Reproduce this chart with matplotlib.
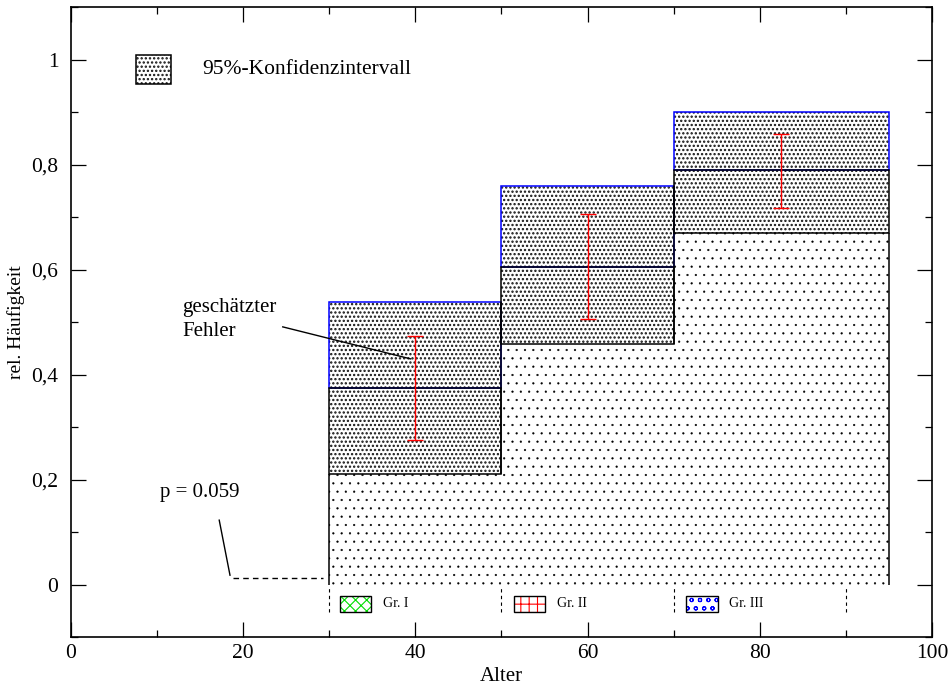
import numpy as np
import matplotlib.pyplot as plt
from matplotlib.patches import Rectangle
from matplotlib.ticker import MultipleLocator

plt.rcParams['font.family'] = ['Liberation Serif', 'DejaVu Serif']
plt.rcParams['hatch.linewidth'] = 0.8

# age classes and confidence intervals
bin_left = [30, 50, 70]
bin_right = [50, 70, 95]
ci_low = [0.21, 0.459, 0.67]
ci_mid = [0.375, 0.606, 0.789]
ci_high = [0.539, 0.76, 0.90]

# estimated error
err_x = [40, 60, 82.5]
err_low = [0.275, 0.506, 0.718]
err_high = [0.474, 0.707, 0.858]

groups = ['Gr. I', 'Gr. II', 'Gr. III']
group_colors = ['#00dd00', 'red', 'blue']
group_hatch = ['xxx', '++', 'oo']
group_box_x = [31.2, 51.4, 71.4]
group_sep = [30, 50, 70, 90]

y_ticks = [0, 0.2, 0.4, 0.6, 0.8, 1.0]
y_ticklabels = ['0', '0,2', '0,4', '0,6', '0,8', '1']


def hatched(xy, w, h, hatch, lw_hatch, color='black', **kw):
    p = Rectangle(xy, w, h, facecolor='white', edgecolor=color, lw=0, hatch=hatch, **kw)
    try:
        p.set_hatch_linewidth(lw_hatch)
    except AttributeError:
        pass
    return p


fig = plt.figure(figsize=(9.5, 6.88), dpi=100)
ax = fig.add_axes([0.0747, 0.0741, 0.9063, 0.9153])

for l, r, lo, mid, hi in zip(bin_left, bin_right, ci_low, ci_mid, ci_high):
    w = r - l
    ax.add_patch(hatched((l, 0), w, lo, '..', 0.35, zorder=1))
    ax.add_patch(hatched((l, lo), w, hi - lo, '....', 1.1, color='#111111', zorder=1))
    ax.add_patch(Rectangle((l, mid), w, hi - mid, fill=False, edgecolor='blue',
                           lw=1.1, zorder=2))
    ax.add_patch(Rectangle((l, lo), w, mid - lo, fill=False, edgecolor='black',
                           lw=1.1, zorder=2))

# inner boundaries and outer sides of the histogram
ax.vlines(bin_right[:-1], ci_low[:-1], ci_high[:-1], colors='black', lw=1.1, zorder=3)
ax.vlines([bin_left[0], bin_right[-1]], 0, [ci_low[0], ci_low[-1]],
          colors='black', lw=1.1, zorder=3)

err_x = np.array(err_x)
err_low = np.array(err_low)
err_high = np.array(err_high)
err_c = (err_low + err_high) / 2
ax.errorbar(err_x, err_c, yerr=[err_c - err_low, err_high - err_c], fmt='none',
            ecolor='red', elinewidth=1.0, capsize=5.6, capthick=1.0, zorder=4)

# annotations
ax.text(12.9, 0.505, 'geschätzter\nFehler', fontsize=15, ha='left', va='center',
        linespacing=1.3)
ax.plot([24.6, 39.45], [0.491, 0.43], color='black', lw=1.0, zorder=5)

ax.text(10.3, 0.176, 'p = 0.059', fontsize=15, ha='left', va='center')
ax.plot([17.22, 18.47], [0.1227, 0.0178], color='black', lw=1.0)
ax.plot([18.85, 29.3], [0.0134, 0.0134], color='black', lw=1.0, ls=(0, (4, 3)))

# confidence interval legend
ax.add_patch(hatched((7.6, 0.954), 4.0, 0.056, '....', 1.1, color='#111111'))
ax.add_patch(Rectangle((7.6, 0.954), 4.0, 0.056, fill=False, edgecolor='black', lw=1.1))
ax.text(15.2, 0.982, '95%-Konfidenzintervall', fontsize=15.5, ha='left', va='center')

# group legend below the bars
ax.vlines(group_sep, -0.053, -0.005, colors='black', lw=0.8, linestyles=(0, (3, 3)))
for name, c, h, bx in zip(groups, group_colors, group_hatch, group_box_x):
    ax.add_patch(hatched((bx, -0.052), 3.7, 0.03, h, 0.8, color=c))
    ax.add_patch(Rectangle((bx, -0.052), 3.7, 0.03, fill=False, edgecolor='black', lw=1.0))
    ax.text(bx + 5.0, -0.037, name, fontsize=10, ha='left', va='center')

ax.set_xlim(0, 100)
ax.set_ylim(-0.1, 1.1)
ax.xaxis.set_major_locator(MultipleLocator(20))
ax.xaxis.set_minor_locator(MultipleLocator(10))
ax.set_yticks(y_ticks)
ax.set_yticklabels(y_ticklabels)
ax.yaxis.set_minor_locator(MultipleLocator(0.1))
ax.tick_params(which='both', direction='in', top=True, right=True, labelsize=15.5)
ax.tick_params(which='major', length=11, width=0.9)
ax.tick_params(which='minor', length=5.3, width=0.9)
ax.tick_params(axis='y', pad=9)
ax.tick_params(axis='x', pad=5)
for s in ax.spines.values():
    s.set_linewidth(1.2)

ax.set_xlabel('Alter', fontsize=15)
ax.set_ylabel('rel. Häufigkeit', fontsize=14)
ax.xaxis.set_label_coords(0.5, -0.047)
ax.yaxis.set_label_coords(-0.053, 0.5)

fig.savefig('out.png', dpi=100)
